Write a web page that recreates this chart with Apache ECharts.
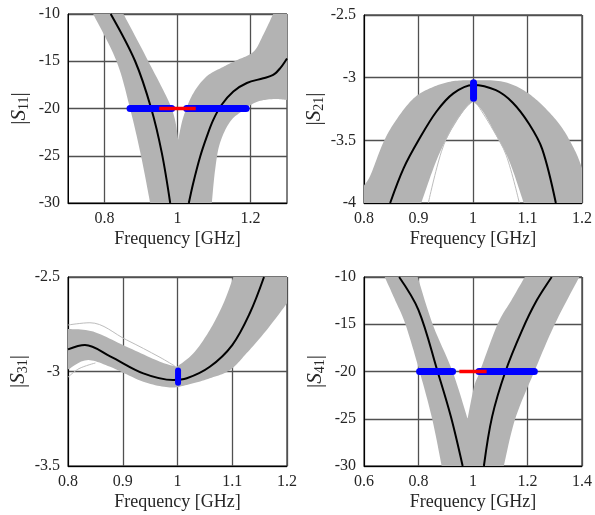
<!DOCTYPE html>
<html><head><meta charset="utf-8">
<script src="https://cdn.jsdelivr.net/npm/echarts@6/dist/echarts.min.js"></script>
<style>html,body{margin:0;padding:0;background:#fff}#c{width:595px;height:515px}</style>
</head><body><div id="c"></div>
<script>
// Each Monte-Carlo envelope is a closed outline given as a list of edges.
// ---------- |S11| ----------
const s11Band = [
  [[0.769,-10],[0.833,-15],[0.87,-20],[0.9,-25],[0.925,-30]],
  [[0.925,-30],[1.094,-30]],
  [[1.094,-30],[1.103,-26.5],[1.116,-23.7],[1.144,-21.4],[1.18,-20.2],[1.217,-19.3],[1.262,-19.0],[1.3,-19.1]],
  [[1.3,-19.1],[1.3,-10]],
  [[1.3,-10],[1.262,-10]],
  [[1.262,-10],[1.235,-12.2],[1.208,-14.0],[1.162,-14.9],[1.125,-15.6],[1.08,-16.6],[1.043,-18.4],[1.016,-20.9],[1.002,-23.3]],
  [[1.002,-23.3],[0.984,-20],[0.92,-15],[0.852,-10]],
  [[0.852,-10],[0.769,-10]]
];
const s11NomLeft = [[0.817,-10],[0.884,-15],[0.928,-20],[0.957,-24.7],[0.98,-30]];
const s11NomRight = [[1.031,-30],[1.043,-27.9],[1.062,-25.1],[1.08,-23.0],[1.098,-21.2],[1.121,-19.6],[1.153,-18.2],[1.19,-17.3],[1.235,-16.8],[1.262,-16.45],[1.281,-15.75],[1.3,-14.7]];
const s11BlueLeft = [[0.87,-20],[0.984,-20]];
const s11BlueRight = [[1.025,-20],[1.188,-20]];
const s11Red = [[0.95,-20],[1.05,-20]];
const s11XTicks = [0.8, 1, 1.2];

// ---------- |S21| ----------
const s21Band = [
  [[0.8,-3.86],[0.812,-3.777],[0.836,-3.511],[0.861,-3.325],[0.891,-3.165],[0.921,-3.085],[0.958,-3.032],[1.0,-3.02],[1.055,-3.032],[1.097,-3.112],[1.133,-3.245],[1.164,-3.404],[1.188,-3.59],[1.2,-3.72]],
  [[1.2,-3.72],[1.2,-4]],
  [[1.2,-4],[1.093,-4]],
  [[1.093,-4],[1.067,-3.67],[1.042,-3.458],[1.018,-3.27],[1.0,-3.19]],
  [[1.0,-3.19],[0.982,-3.27],[0.955,-3.46],[0.932,-3.67],[0.905,-4]],
  [[0.905,-4],[0.8,-4]],
  [[0.8,-4],[0.8,-3.86]]
];
const s21Nom = [[0.848,-4],[0.873,-3.72],[0.9,-3.5],[0.933,-3.27],[0.964,-3.125],[1.0,-3.058],[1.042,-3.10],[1.073,-3.2],[1.103,-3.37],[1.127,-3.57],[1.152,-4]];
const s21Blue = [[1.001,-3.04],[1.001,-3.165]];
const s21StrayLeft = [[0.993,-3.205],[0.964,-3.378],[0.942,-3.591],[0.918,-4]];
const s21StrayRight = [[1.009,-3.22],[1.036,-3.41],[1.061,-3.62],[1.085,-4]];

// ---------- |S31| ----------
const s31Band = [
  [[0.8,-2.775],[0.846,-2.789],[0.907,-2.869],[0.968,-2.948],[0.9985,-2.975]],
  [[0.9985,-2.975],[1.029,-2.904],[1.059,-2.78],[1.084,-2.639],[1.102,-2.5]],
  [[1.102,-2.5],[1.2,-2.5]],
  [[1.2,-2.5],[1.2,-2.639]],
  [[1.2,-2.639],[1.163,-2.78],[1.126,-2.904],[1.096,-2.992],[1.059,-3.036],[1.017,-3.071],[0.986,-3.084],[0.9375,-3.054],[0.877,-2.975],[0.834,-2.94],[0.8,-2.99]],
  [[0.8,-2.99],[0.8,-2.775]]
];
const s31Nom = [[0.8,-2.883],[0.831,-2.86],[0.877,-2.92],[0.9375,-3.01],[0.992,-3.045],[1.017,-3.036],[1.059,-2.975],[1.1,-2.86],[1.132,-2.692],[1.158,-2.5]];
const s31Blue = [[1.001,-2.995],[1.001,-3.06]];
const s31StrayUpper = [[0.8,-2.754],[0.84,-2.742],[0.907,-2.833],[0.968,-2.925],[0.995,-2.971]];
const s31StrayLower = [[0.8,-3.03],[0.82,-2.985],[0.85,-2.955]];

// ---------- |S41| ----------
const s41Band = [
  [[0.676,-10],[0.715,-12.5],[0.752,-15],[0.804,-20],[0.85,-25],[0.885,-30]],
  [[0.885,-30],[1.113,-30]],
  [[1.113,-30],[1.155,-25],[1.225,-20],[1.30,-15],[1.39,-10]],
  [[1.39,-10],[1.19,-10]],
  [[1.19,-10],[1.14,-12.5],[1.09,-15],[1.025,-20],[1.004,-21.6],[0.98,-25]],
  [[0.98,-25],[0.925,-20],[0.852,-15],[0.797,-10]],
  [[0.797,-10],[0.676,-10]]
];
const s41NomLeft = [[0.729,-10],[0.80,-13.5],[0.870,-20],[0.919,-24.8],[0.962,-30]];
const s41NomRight = [[1.04,-30],[1.07,-24.8],[1.119,-20],[1.18,-15.64],[1.234,-12.47],[1.289,-10]];
const s41BlueLeft = [[0.804,-20],[0.925,-20]];
const s41BlueRight = [[1.022,-20],[1.225,-20]];
const s41Red = [[0.95,-20],[1.05,-20]];

const F = "'Liberation Serif','Times New Roman',serif";
const TXT = '#262626';
const GRIDC = '#505050';

const grids = [
  {left:68, top:14, width:219, height:189},
  {left:364, top:15, width:220, height:188},
  {left:68, top:277, width:219, height:189},
  {left:364, top:277, width:220, height:189}
].map(g => Object.assign(g, {show:true, borderColor:'#000', borderWidth:1, containLabel:false}));

function xAx(i, min, max, interval, custom) {
  const a = {type:'value', gridIndex:i, min:min, max:max,
    name:'Frequency [GHz]', nameLocation:'middle', nameGap:27,
    nameTextStyle:{fontFamily:F, fontSize:18, color:TXT},
    axisLine:{show:true, onZero:false, lineStyle:{color:'#000', width:1}},
    axisTick:{show:false},
    axisLabel:{fontFamily:F, fontSize:16, color:TXT, margin:8},
    splitLine:{show:true, lineStyle:{color:GRIDC, width:1.3}}};
  if (custom) { a.axisTick.customValues = custom; a.axisLabel.customValues = custom; }
  else a.interval = interval;
  return a;
}
function yAx(i, min, max, interval, sub) {
  return {type:'value', gridIndex:i, min:min, max:max, interval:interval,
    name:'|{i|S}{s|' + sub + '}|', nameLocation:'middle', nameGap:37,
    nameTextStyle:{fontFamily:F, fontSize:21, color:TXT,
      rich:{i:{fontFamily:F, fontSize:21, fontStyle:'italic', color:TXT},
            s:{fontFamily:F, fontSize:14, color:TXT, padding:[10,0,0,0]}}},
    axisLine:{show:true, lineStyle:{color:'#000', width:1}},
    axisTick:{show:false},
    axisLabel:{fontFamily:F, fontSize:16, color:TXT, margin:8},
    splitLine:{show:true, lineStyle:{color:GRIDC, width:1.3}}};
}

// Catmull-Rom smoothing of an edge in pixel space (rendering only; data stay as read)
function smoothEdge(px) {
  if (px.length < 3) return px.slice();
  const out = [];
  const n = px.length;
  for (let k = 0; k < n - 1; k++) {
    const p0 = px[Math.max(0, k - 1)], p1 = px[k], p2 = px[k + 1], p3 = px[Math.min(n - 1, k + 2)];
    for (let s = 0; s < 12; s++) {
      const t = s / 12, t2 = t * t, t3 = t2 * t;
      out.push([0, 1].map(d => 0.5 * ((2 * p1[d]) + (-p0[d] + p2[d]) * t +
        (2 * p0[d] - 5 * p1[d] + 4 * p2[d] - p3[d]) * t2 + (-p0[d] + 3 * p1[d] - 3 * p2[d] + p3[d]) * t3)));
    }
  }
  out.push(px[n - 1]);
  return out;
}

function band(i, edges) {
  const flat = [].concat.apply([], edges);
  return {type:'custom', xAxisIndex:i, yAxisIndex:i, data:flat, silent:true, z:1, clip:true,
    renderItem:function(params, api){
      if (params.dataIndex !== 0) return null;
      let pts = [];
      edges.forEach(e => { pts = pts.concat(smoothEdge(e.map(p => api.coord(p)))); });
      return {type:'polygon', shape:{points: pts}, style:{fill:'#b3b3b3'}};
    }};
}
function line(i, pts, color, width, z, cap) {
  return {type:'line', xAxisIndex:i, yAxisIndex:i, data:pts, showSymbol:false, silent:true,
    smooth: pts.length > 2 ? 0.35 : false, z:z, animation:false,
    lineStyle:{color:color, width:width, cap:cap || 'butt'}};
}
const STRAY = '#bdbdbd';

const series = [
  band(0, s11Band), line(0, s11NomLeft, '#000', 2, 3), line(0, s11NomRight, '#000', 2, 3),
  line(0, s11BlueLeft, '#0000ff', 7, 4, 'round'), line(0, s11BlueRight, '#0000ff', 7, 4, 'round'),
  line(0, s11Red, '#ff0000', 3.5, 5),
  band(1, s21Band), line(1, s21StrayLeft, STRAY, 1, 2), line(1, s21StrayRight, STRAY, 1, 2),
  line(1, s21Nom, '#000', 2, 3), line(1, s21Blue, '#0000ff', 7, 4, 'round'),
  band(2, s31Band), line(2, s31StrayUpper, STRAY, 1, 2), line(2, s31StrayLower, STRAY, 1, 2),
  line(2, s31Nom, '#000', 2, 3), line(2, s31Blue, '#0000ff', 6, 4, 'round'),
  band(3, s41Band), line(3, s41NomLeft, '#000', 2, 3), line(3, s41NomRight, '#000', 2, 3),
  line(3, s41BlueLeft, '#0000ff', 7, 4, 'round'), line(3, s41BlueRight, '#0000ff', 7, 4, 'round'),
  line(3, s41Red, '#ff0000', 3.5, 5)
];

const chart = echarts.init(document.getElementById('c'), null, {renderer:'canvas'});
chart.setOption({
  animation:false,
  backgroundColor:'#fff',
  grid: grids,
  xAxis: [xAx(0, 0.7, 1.3, null, s11XTicks), xAx(1, 0.8, 1.2, 0.1), xAx(2, 0.8, 1.2, 0.1), xAx(3, 0.6, 1.4, 0.2)],
  yAxis: [yAx(0, -30, -10, 5, '11'), yAx(1, -4, -2.5, 0.5, '21'), yAx(2, -3.5, -2.5, 0.5, '31'), yAx(3, -30, -10, 5, '41')],
  series: series
});
</script>
</body></html>
